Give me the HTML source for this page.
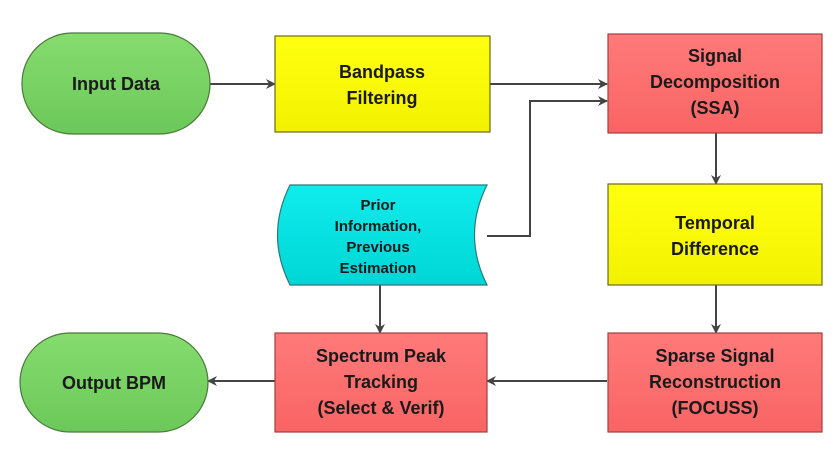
<!DOCTYPE html>
<html><head><meta charset="utf-8"><style>
html,body{margin:0;padding:0;background:#fff;}
svg{display:block;}
text{font-family:"Liberation Sans Narrow","Liberation Sans",sans-serif;font-weight:bold;fill:#1a1a1a;text-anchor:middle;}
</style></head><body>
<svg width="840" height="458" viewBox="0 0 840 458" xmlns="http://www.w3.org/2000/svg">
<defs>
<marker id="a" markerWidth="10" markerHeight="10" refX="9" refY="5" orient="auto" markerUnits="userSpaceOnUse">
<path d="M0,0 L10,5 L0,10 L3,5 Z" fill="#444"/></marker>
<linearGradient id="g" x1="0" y1="0" x2="0" y2="1"><stop offset="0" stop-color="#86dc6e"/><stop offset="1" stop-color="#6cc85a"/></linearGradient>
<linearGradient id="y" x1="0" y1="0" x2="0" y2="1"><stop offset="0" stop-color="#ffff10"/><stop offset="1" stop-color="#f2f200"/></linearGradient>
<linearGradient id="r" x1="0" y1="0" x2="0" y2="1"><stop offset="0" stop-color="#ff7a7a"/><stop offset="1" stop-color="#f96464"/></linearGradient>
<linearGradient id="c" x1="0" y1="0" x2="0" y2="1"><stop offset="0" stop-color="#10ecec"/><stop offset="1" stop-color="#00d6d6"/></linearGradient>
</defs>
<g stroke="#444" stroke-width="2" fill="none">
<line x1="210" y1="84" x2="275" y2="84" marker-end="url(#a)"/>
<line x1="490" y1="84" x2="607" y2="84" marker-end="url(#a)"/>
<polyline points="487,236 530,236 530,101 607,101" marker-end="url(#a)"/>
<line x1="716" y1="133" x2="716" y2="184" marker-end="url(#a)"/>
<line x1="716" y1="285" x2="716" y2="333" marker-end="url(#a)"/>
<line x1="380" y1="285" x2="380" y2="333" marker-end="url(#a)"/>
<line x1="607" y1="381" x2="487" y2="381" marker-end="url(#a)"/>
<line x1="275" y1="381" x2="208" y2="381" marker-end="url(#a)"/>
</g>
<rect x="22" y="33" width="188" height="101" rx="50" fill="url(#g)" stroke="#4a7a3a" stroke-width="1.2"/>
<rect x="20" y="333" width="188" height="99" rx="50" fill="url(#g)" stroke="#4a7a3a" stroke-width="1.2"/>
<rect x="275" y="36" width="215" height="96" fill="url(#y)" stroke="#6a6a20" stroke-width="1.2"/>
<rect x="608" y="34" width="214" height="99" fill="url(#r)" stroke="#a04040" stroke-width="1.2"/>
<rect x="608" y="184" width="214" height="101" fill="url(#y)" stroke="#6a6a20" stroke-width="1.2"/>
<rect x="275" y="333" width="212" height="99" fill="url(#r)" stroke="#a04040" stroke-width="1.2"/>
<rect x="608" y="333" width="214" height="99" fill="url(#r)" stroke="#a04040" stroke-width="1.2"/>
<path d="M290,185 L487,185 Q462,235 487,285 L290,285 Q265,235 290,185 Z" fill="url(#c)" stroke="#2a7a7a" stroke-width="1.2"/>
<g font-size="18">
<text x="116" y="90">Input Data</text>
<text x="114" y="389">Output BPM</text>
<text x="382" y="78">Bandpass</text><text x="382" y="104">Filtering</text>
<text x="715" y="62">Signal</text><text x="715" y="88">Decomposition</text><text x="715" y="114">(SSA)</text>
<text x="715" y="229">Temporal</text><text x="715" y="255">Difference</text>
<text x="381" y="362">Spectrum Peak</text><text x="381" y="388">Tracking</text><text x="381" y="414">(Select &amp; Verif)</text>
<text x="715" y="362">Sparse Signal</text><text x="715" y="388">Reconstruction</text><text x="715" y="414">(FOCUSS)</text>
</g>
<g font-size="15">
<text x="378" y="210">Prior</text><text x="378" y="231">Information,</text><text x="378" y="252">Previous</text><text x="378" y="273">Estimation</text>
</g>
</svg>
</body></html>
